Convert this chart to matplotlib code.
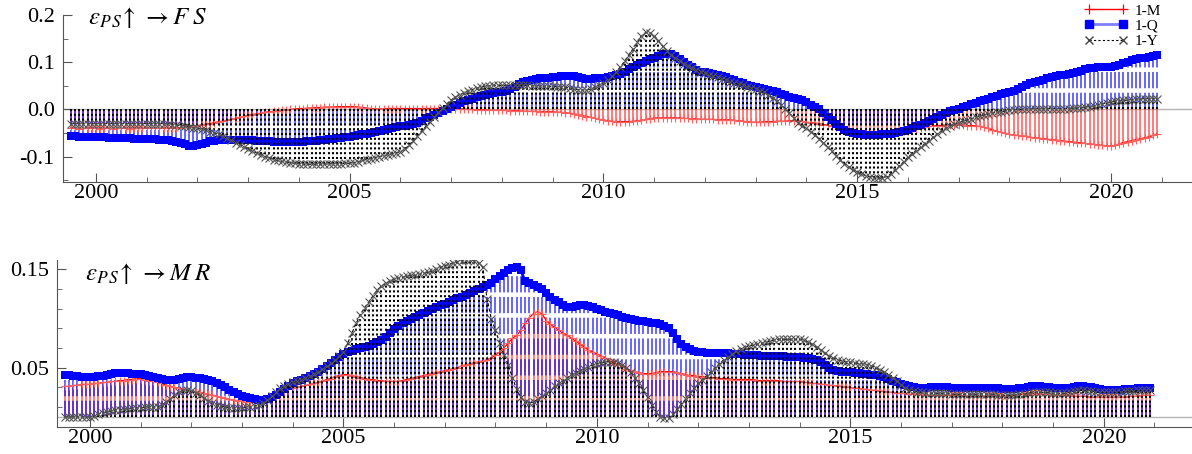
import numpy as np
import matplotlib
matplotlib.use('Agg')
import matplotlib.pyplot as plt
from matplotlib.lines import Line2D

plt.rcParams['font.family'] = ['Liberation Serif', 'DejaVu Serif']
plt.rcParams['mathtext.fontset'] = 'stix'

# monthly responses, first point = Jul 1999, last = Dec 2020
START = 1999.5

# ---- eps_PS -> FS ----
fs_m = [
    -0.040, -0.040, -0.041, -0.040, -0.040, -0.040,
    -0.040, -0.041, -0.040, -0.040, -0.041, -0.040, -0.040, -0.040, -0.041, -0.040, -0.040, -0.040,  # 2000
    -0.040, -0.040, -0.040, -0.040, -0.040, -0.040, -0.039, -0.039, -0.039, -0.038, -0.037, -0.036,  # 2001
    -0.034, -0.033, -0.031, -0.030, -0.028, -0.026, -0.025, -0.023, -0.021, -0.019, -0.017, -0.014,  # 2002
    -0.012, -0.011, -0.009, -0.008, -0.006, -0.005, -0.004, -0.003, -0.002, -0.001, 0.000, 0.001,    # 2003
    0.002, 0.002, 0.003, 0.003, 0.004, 0.004, 0.005, 0.005, 0.005, 0.006, 0.006, 0.006,              # 2004
    0.006, 0.006, 0.005, 0.004, 0.003, 0.002, 0.001, 0.001, 0.001, 0.002, 0.002, 0.002,              # 2005
    0.002, 0.002, 0.002, 0.002, 0.002, 0.002, 0.002, 0.002, 0.002, 0.002, 0.002, 0.002,              # 2006
    0.002, 0.002, 0.001, 0.001, 0.000, 0.000, -0.001, -0.001, -0.001, -0.002, -0.002, -0.002,        # 2007
    -0.002, -0.002, -0.003, -0.003, -0.003, -0.004, -0.004, -0.004, -0.004, -0.005, -0.005, -0.005,  # 2008
    -0.005, -0.006, -0.006, -0.007, -0.008, -0.009, -0.011, -0.013, -0.015, -0.017, -0.019, -0.021,  # 2009
    -0.022, -0.024, -0.025, -0.026, -0.026, -0.026, -0.026, -0.025, -0.024, -0.023, -0.021, -0.020,  # 2010
    -0.018, -0.018, -0.018, -0.018, -0.018, -0.018, -0.018, -0.019, -0.019, -0.020, -0.020, -0.021,  # 2011
    -0.021, -0.021, -0.021, -0.022, -0.022, -0.022, -0.022, -0.023, -0.024, -0.025, -0.026, -0.027,  # 2012
    -0.027, -0.027, -0.026, -0.026, -0.026, -0.025, -0.025, -0.025, -0.024, -0.024, -0.024, -0.025,  # 2013
    -0.027, -0.028, -0.029, -0.030, -0.032, -0.033, -0.035, -0.037, -0.039, -0.041, -0.043, -0.045,  # 2014
    -0.046, -0.047, -0.047, -0.048, -0.048, -0.049, -0.049, -0.049, -0.048, -0.047, -0.046, -0.046,  # 2015
    -0.045, -0.043, -0.041, -0.040, -0.038, -0.036, -0.035, -0.034, -0.034, -0.033, -0.033, -0.033,  # 2016
    -0.033, -0.033, -0.034, -0.034, -0.035, -0.036, -0.038, -0.040, -0.043, -0.046, -0.048, -0.050,  # 2017
    -0.053, -0.054, -0.055, -0.056, -0.057, -0.059, -0.060, -0.061, -0.062, -0.063, -0.064, -0.065,  # 2018
    -0.066, -0.067, -0.068, -0.069, -0.070, -0.071, -0.072, -0.073, -0.074, -0.075, -0.076, -0.077,  # 2019
    -0.078, -0.076, -0.073, -0.070, -0.068, -0.066, -0.064, -0.062, -0.060, -0.058, -0.055, -0.052,  # 2020
]
fs_q = [
    -0.057, -0.057, -0.058, -0.058, -0.058, -0.059,
    -0.059, -0.059, -0.059, -0.060, -0.060, -0.060, -0.061, -0.061, -0.061, -0.062, -0.062, -0.062,  # 2000
    -0.062, -0.063, -0.063, -0.064, -0.064, -0.065, -0.066, -0.068, -0.071, -0.074, -0.077, -0.078,  # 2001
    -0.076, -0.073, -0.070, -0.067, -0.066, -0.065, -0.065, -0.065, -0.065, -0.065, -0.065, -0.065,  # 2002
    -0.065, -0.065, -0.066, -0.066, -0.067, -0.067, -0.068, -0.068, -0.068, -0.068, -0.068, -0.068,  # 2003
    -0.068, -0.068, -0.067, -0.067, -0.066, -0.065, -0.064, -0.063, -0.062, -0.061, -0.060, -0.059,  # 2004
    -0.058, -0.057, -0.055, -0.053, -0.051, -0.049, -0.047, -0.045, -0.043, -0.041, -0.039, -0.037,  # 2005
    -0.035, -0.034, -0.033, -0.031, -0.028, -0.024, -0.019, -0.015, -0.011, -0.007, -0.003, 0.001,   # 2006
    0.006, 0.010, 0.013, 0.017, 0.020, 0.023, 0.026, 0.028, 0.030, 0.032, 0.034, 0.036,              # 2007
    0.037, 0.040, 0.044, 0.048, 0.053, 0.058, 0.061, 0.063, 0.065, 0.066, 0.067, 0.067,              # 2008
    0.068, 0.069, 0.070, 0.071, 0.071, 0.070, 0.068, 0.066, 0.065, 0.065, 0.066, 0.066,              # 2009
    0.066, 0.068, 0.070, 0.073, 0.076, 0.080, 0.086, 0.090, 0.094, 0.098, 0.102, 0.106,              # 2010
    0.110, 0.113, 0.117, 0.118, 0.117, 0.114, 0.106, 0.100, 0.095, 0.089, 0.084, 0.080,              # 2011
    0.079, 0.077, 0.076, 0.074, 0.071, 0.068, 0.065, 0.062, 0.058, 0.055, 0.052, 0.050,              # 2012
    0.048, 0.046, 0.044, 0.042, 0.039, 0.036, 0.033, 0.030, 0.027, 0.024, 0.022, 0.019,              # 2013
    0.015, 0.010, 0.006, 0.000, -0.008, -0.016, -0.022, -0.030, -0.037, -0.043, -0.047, -0.050,      # 2014
    -0.052, -0.053, -0.054, -0.054, -0.054, -0.054, -0.053, -0.053, -0.052, -0.050, -0.048, -0.046,  # 2015
    -0.043, -0.040, -0.036, -0.032, -0.028, -0.024, -0.020, -0.016, -0.012, -0.008, -0.004, -0.001,  # 2016
    0.002, 0.005, 0.008, 0.011, 0.014, 0.017, 0.020, 0.023, 0.026, 0.029, 0.032, 0.035,              # 2017
    0.037, 0.040, 0.043, 0.047, 0.051, 0.055, 0.058, 0.061, 0.063, 0.066, 0.068, 0.070,              # 2018
    0.072, 0.074, 0.076, 0.078, 0.080, 0.082, 0.085, 0.087, 0.088, 0.089, 0.090, 0.090,              # 2019
    0.090, 0.092, 0.095, 0.098, 0.101, 0.104, 0.106, 0.108, 0.110, 0.112, 0.114, 0.116,              # 2020
]
fs_y = [
    -0.030, -0.030, -0.030, -0.030, -0.030, -0.030,
    -0.030, -0.030, -0.030, -0.030, -0.030, -0.030, -0.030, -0.030, -0.030, -0.030, -0.030, -0.030,  # 2000
    -0.030, -0.030, -0.030, -0.030, -0.030, -0.031, -0.032, -0.033, -0.034, -0.035, -0.037, -0.039,  # 2001
    -0.040, -0.042, -0.044, -0.047, -0.050, -0.053, -0.057, -0.061, -0.065, -0.070, -0.075, -0.080,  # 2002
    -0.084, -0.088, -0.092, -0.096, -0.100, -0.103, -0.106, -0.108, -0.110, -0.112, -0.113, -0.114,  # 2003
    -0.115, -0.116, -0.116, -0.116, -0.116, -0.116, -0.116, -0.115, -0.115, -0.115, -0.115, -0.114,  # 2004
    -0.114, -0.113, -0.111, -0.108, -0.106, -0.104, -0.102, -0.100, -0.098, -0.096, -0.094, -0.092,  # 2005
    -0.090, -0.084, -0.076, -0.066, -0.056, -0.046, -0.036, -0.026, -0.016, -0.006, 0.004, 0.012,    # 2006
    0.020, 0.026, 0.031, 0.035, 0.039, 0.042, 0.045, 0.047, 0.049, 0.050, 0.051, 0.051,              # 2007
    0.051, 0.051, 0.051, 0.051, 0.051, 0.051, 0.051, 0.050, 0.050, 0.050, 0.049, 0.049,              # 2008
    0.049, 0.048, 0.048, 0.047, 0.045, 0.043, 0.042, 0.041, 0.041, 0.043, 0.047, 0.052,              # 2009
    0.055, 0.062, 0.070, 0.080, 0.090, 0.102, 0.115, 0.128, 0.142, 0.155, 0.163, 0.162,              # 2010
    0.156, 0.146, 0.134, 0.124, 0.116, 0.108, 0.102, 0.096, 0.091, 0.087, 0.083, 0.080,              # 2011
    0.077, 0.074, 0.071, 0.068, 0.065, 0.062, 0.059, 0.056, 0.053, 0.051, 0.048, 0.045,              # 2012
    0.043, 0.040, 0.036, 0.031, 0.025, 0.018, 0.010, 0.002, -0.008, -0.018, -0.028, -0.035,          # 2013
    -0.040, -0.047, -0.054, -0.062, -0.071, -0.080, -0.089, -0.098, -0.107, -0.115, -0.122, -0.128,  # 2014
    -0.133, -0.137, -0.140, -0.143, -0.145, -0.146, -0.145, -0.142, -0.136, -0.128, -0.120, -0.111,  # 2015
    -0.101, -0.094, -0.087, -0.080, -0.073, -0.066, -0.059, -0.052, -0.046, -0.040, -0.035, -0.031,  # 2016
    -0.028, -0.025, -0.023, -0.020, -0.017, -0.014, -0.012, -0.010, -0.008, -0.006, -0.005, -0.004,  # 2017
    -0.002, -0.001, 0.000, 0.000, 0.001, 0.001, 0.002, 0.002, 0.002, 0.002, 0.002, 0.002,            # 2018
    0.002, 0.002, 0.002, 0.003, 0.003, 0.004, 0.005, 0.006, 0.008, 0.010, 0.012, 0.014,              # 2019
    0.016, 0.017, 0.018, 0.019, 0.020, 0.021, 0.022, 0.022, 0.023, 0.023, 0.023, 0.023,              # 2020
]

# ---- eps_PS -> MR ----
mr_m = [
    0.031, 0.031, 0.032, 0.032, 0.033, 0.033,
    0.033, 0.034, 0.034, 0.035, 0.035, 0.036, 0.036, 0.037, 0.037, 0.038, 0.038, 0.039,  # 2000
    0.039, 0.038, 0.037, 0.036, 0.035, 0.034, 0.032, 0.031, 0.030, 0.029, 0.028, 0.027,  # 2001
    0.026, 0.025, 0.025, 0.024, 0.023, 0.022, 0.021, 0.020, 0.019, 0.018, 0.017, 0.016,  # 2002
    0.016, 0.015, 0.015, 0.015, 0.015, 0.016, 0.018, 0.020, 0.022, 0.024, 0.026, 0.028,  # 2003
    0.029, 0.030, 0.031, 0.032, 0.033, 0.034, 0.035, 0.036, 0.038, 0.039, 0.041, 0.042,  # 2004
    0.043, 0.043, 0.042, 0.041, 0.040, 0.039, 0.038, 0.038, 0.037, 0.037, 0.036, 0.036,  # 2005
    0.036, 0.036, 0.037, 0.038, 0.039, 0.040, 0.041, 0.042, 0.043, 0.044, 0.045, 0.046,  # 2006
    0.047, 0.048, 0.049, 0.050, 0.052, 0.053, 0.054, 0.055, 0.056, 0.057, 0.058, 0.060,  # 2007
    0.063, 0.066, 0.070, 0.075, 0.080, 0.083, 0.088, 0.095, 0.101, 0.105, 0.107, 0.105,  # 2008
    0.098, 0.094, 0.091, 0.088, 0.085, 0.083, 0.080, 0.077, 0.074, 0.071, 0.068, 0.066,  # 2009
    0.064, 0.062, 0.060, 0.057, 0.055, 0.053, 0.051, 0.049, 0.047, 0.046, 0.045, 0.044,  # 2010
    0.044, 0.044, 0.045, 0.046, 0.046, 0.046, 0.046, 0.045, 0.044, 0.043, 0.042, 0.042,  # 2011
    0.041, 0.041, 0.040, 0.040, 0.040, 0.039, 0.039, 0.039, 0.038, 0.038, 0.038, 0.038,  # 2012
    0.038, 0.038, 0.037, 0.037, 0.037, 0.037, 0.037, 0.037, 0.036, 0.036, 0.036, 0.036,  # 2013
    0.036, 0.035, 0.035, 0.034, 0.034, 0.033, 0.033, 0.032, 0.032, 0.031, 0.031, 0.030,  # 2014
    0.030, 0.029, 0.029, 0.028, 0.028, 0.027, 0.027, 0.026, 0.026, 0.025, 0.025, 0.024,  # 2015
    0.024, 0.024, 0.023, 0.023, 0.023, 0.023, 0.022, 0.022, 0.022, 0.022, 0.022, 0.022,  # 2016
    0.022, 0.022, 0.022, 0.021, 0.021, 0.021, 0.021, 0.021, 0.021, 0.021, 0.021, 0.021,  # 2017
    0.021, 0.021, 0.022, 0.022, 0.023, 0.023, 0.024, 0.024, 0.024, 0.023, 0.023, 0.023,  # 2018
    0.022, 0.022, 0.022, 0.022, 0.021, 0.021, 0.021, 0.021, 0.021, 0.020, 0.020, 0.020,  # 2019
    0.020, 0.020, 0.020, 0.020, 0.020, 0.020, 0.021, 0.021, 0.021, 0.022, 0.022, 0.022,  # 2020
]
mr_q = [
    0.043, 0.043, 0.042, 0.042, 0.041, 0.041,
    0.041, 0.041, 0.042, 0.042, 0.043, 0.044, 0.045, 0.045, 0.045, 0.045, 0.044, 0.044,  # 2000
    0.044, 0.043, 0.042, 0.041, 0.040, 0.039, 0.038, 0.038, 0.038, 0.039, 0.040, 0.041,  # 2001
    0.041, 0.040, 0.040, 0.039, 0.038, 0.036, 0.034, 0.032, 0.030, 0.027, 0.025, 0.023,  # 2002
    0.021, 0.020, 0.019, 0.018, 0.017, 0.017, 0.018, 0.020, 0.022, 0.025, 0.028, 0.031,  # 2003
    0.034, 0.036, 0.038, 0.040, 0.042, 0.044, 0.046, 0.049, 0.052, 0.055, 0.058, 0.061,  # 2004
    0.064, 0.066, 0.067, 0.069, 0.070, 0.071, 0.072, 0.074, 0.076, 0.078, 0.081, 0.085,  # 2005
    0.089, 0.092, 0.095, 0.098, 0.100, 0.102, 0.104, 0.106, 0.108, 0.110, 0.112, 0.114,  # 2006
    0.115, 0.117, 0.119, 0.121, 0.122, 0.124, 0.126, 0.128, 0.130, 0.132, 0.134, 0.136,  # 2007
    0.140, 0.143, 0.146, 0.149, 0.151, 0.152, 0.149, 0.138, 0.136, 0.134, 0.132, 0.130,  # 2008
    0.126, 0.122, 0.119, 0.117, 0.114, 0.112, 0.112, 0.113, 0.114, 0.114, 0.113, 0.112,  # 2009
    0.110, 0.109, 0.107, 0.106, 0.105, 0.104, 0.102, 0.101, 0.100, 0.099, 0.098, 0.098,  # 2010
    0.097, 0.096, 0.095, 0.094, 0.092, 0.090, 0.085, 0.079, 0.074, 0.071, 0.069, 0.067,  # 2011
    0.066, 0.066, 0.065, 0.065, 0.065, 0.065, 0.065, 0.065, 0.064, 0.064, 0.064, 0.063,  # 2012
    0.063, 0.063, 0.063, 0.062, 0.062, 0.062, 0.062, 0.062, 0.062, 0.061, 0.061, 0.061,  # 2013
    0.061, 0.060, 0.060, 0.059, 0.058, 0.056, 0.053, 0.050, 0.048, 0.047, 0.046, 0.046,  # 2014
    0.046, 0.045, 0.045, 0.044, 0.044, 0.043, 0.043, 0.042, 0.041, 0.039, 0.037, 0.035,  # 2015
    0.033, 0.032, 0.031, 0.030, 0.029, 0.029, 0.029, 0.030, 0.030, 0.030, 0.030, 0.030,  # 2016
    0.029, 0.029, 0.029, 0.029, 0.029, 0.029, 0.029, 0.029, 0.029, 0.029, 0.029, 0.029,  # 2017
    0.028, 0.028, 0.028, 0.028, 0.029, 0.029, 0.030, 0.031, 0.031, 0.031, 0.030, 0.030,  # 2018
    0.029, 0.029, 0.029, 0.029, 0.029, 0.030, 0.031, 0.031, 0.030, 0.030, 0.029, 0.028,  # 2019
    0.027, 0.027, 0.027, 0.027, 0.027, 0.028, 0.028, 0.028, 0.029, 0.029, 0.029, 0.029,  # 2020
]
mr_y = [
    0.000, 0.000, 0.000, 0.000, 0.000, 0.000,
    0.000, 0.001, 0.003, 0.004, 0.005, 0.006, 0.007, 0.007, 0.008, 0.008, 0.009, 0.009,  # 2000
    0.009, 0.010, 0.010, 0.010, 0.010, 0.012, 0.015, 0.018, 0.022, 0.025, 0.027, 0.027,  # 2001
    0.026, 0.024, 0.022, 0.019, 0.016, 0.014, 0.012, 0.011, 0.010, 0.009, 0.009, 0.009,  # 2002
    0.009, 0.010, 0.010, 0.011, 0.012, 0.014, 0.017, 0.021, 0.025, 0.029, 0.031, 0.033,  # 2003
    0.035, 0.037, 0.038, 0.040, 0.042, 0.044, 0.046, 0.049, 0.052, 0.055, 0.058, 0.062,  # 2004
    0.066, 0.075, 0.085, 0.095, 0.104, 0.111, 0.117, 0.123, 0.129, 0.133, 0.136, 0.138,  # 2005
    0.140, 0.141, 0.142, 0.143, 0.144, 0.144, 0.145, 0.146, 0.147, 0.148, 0.150, 0.152,  # 2006
    0.154, 0.155, 0.157, 0.158, 0.159, 0.160, 0.160, 0.159, 0.157, 0.152, 0.120, 0.100,  # 2007
    0.088, 0.075, 0.063, 0.053, 0.040, 0.028, 0.020, 0.015, 0.014, 0.015, 0.018, 0.021,  # 2008
    0.024, 0.027, 0.031, 0.034, 0.037, 0.040, 0.043, 0.045, 0.047, 0.049, 0.051, 0.053,  # 2009
    0.054, 0.055, 0.056, 0.056, 0.056, 0.055, 0.053, 0.050, 0.046, 0.040, 0.034, 0.027,  # 2010
    0.020, 0.012, 0.005, 0.000, -0.001, -0.001, 0.003, 0.008, 0.013, 0.018, 0.024, 0.029,  # 2011
    0.034, 0.038, 0.042, 0.046, 0.050, 0.054, 0.058, 0.061, 0.064, 0.067, 0.069, 0.071,  # 2012
    0.072, 0.073, 0.074, 0.075, 0.076, 0.077, 0.078, 0.079, 0.079, 0.079, 0.079, 0.079,  # 2013
    0.079, 0.078, 0.076, 0.074, 0.071, 0.068, 0.065, 0.062, 0.060, 0.058, 0.057, 0.056,  # 2014
    0.056, 0.055, 0.054, 0.054, 0.053, 0.052, 0.050, 0.048, 0.046, 0.043, 0.040, 0.036,  # 2015
    0.032, 0.029, 0.027, 0.026, 0.025, 0.025, 0.024, 0.024, 0.024, 0.024, 0.024, 0.024,  # 2016
    0.023, 0.023, 0.023, 0.023, 0.023, 0.023, 0.023, 0.023, 0.023, 0.023, 0.023, 0.022,  # 2017
    0.022, 0.022, 0.022, 0.022, 0.023, 0.023, 0.024, 0.025, 0.025, 0.025, 0.025, 0.025,  # 2018
    0.024, 0.024, 0.024, 0.024, 0.025, 0.026, 0.027, 0.027, 0.026, 0.026, 0.025, 0.025,  # 2019
    0.025, 0.025, 0.025, 0.025, 0.025, 0.026, 0.026, 0.026, 0.027, 0.027, 0.027, 0.027,  # 2020
]

labels = ['1-M', '1-Q', '1-Y']
year_major = [2000, 2005, 2010, 2015, 2020]
year_minor = [y for y in range(2000, 2022) if y % 5]

AX_COL = '#555555'


def draw_panel(ax, m, q, y):
    """Drop lines to the axis plus the three marker lines."""
    t = START + np.arange(len(m)) / 12.0
    ax.axhline(0, color='#b4b4b4', lw=1.0, zorder=0)
    ax.vlines(t, 0, m, colors='red', alpha=0.6, lw=1.2, zorder=1)
    ax.vlines(t, 0, q, colors='blue', alpha=0.65, lw=1.3,
              linestyles=[(0, (9, 2.5))], zorder=2)
    ax.plot(t, m, color='red', lw=0.9, marker='+', ms=6, mew=0.8,
            mec='#ff6060', zorder=3)
    ax.plot(t, q, color='blue', lw=2.0, marker='s', ms=6, mew=0, zorder=4)
    ax.vlines(t, 0, y, colors='black', lw=1.5,
              linestyles=[(0, (1, 1.3))], zorder=5)
    ax.plot(t, y, color='black', lw=0.8, ls=(0, (3, 2)), marker='x', ms=6,
            mec='#555555', mew=0.8, zorder=6)


def style_axes(ax):
    for s in ('top', 'right'):
        ax.spines[s].set_visible(False)
    for s in ('left', 'bottom'):
        ax.spines[s].set_color(AX_COL)
    ax.set_xticks(year_major, [str(y) for y in year_major])
    ax.set_xticks(year_minor, minor=True)
    ax.tick_params(which='both', direction='in', color=AX_COL, labelsize=16)
    ax.tick_params(which='major', length=6.5)
    ax.tick_params(which='minor', length=3.6)
    ax.tick_params(axis='x', pad=2)
    ax.tick_params(axis='y', pad=6)


fig = plt.figure(figsize=(11.92, 4.54), dpi=100)

# top panel: FS
ax1 = fig.add_axes([63 / 1192, 1 - 181.7 / 454, 1129 / 1192, 166.7 / 454])
draw_panel(ax1, fs_m, fs_q, fs_y)
style_axes(ax1)
ax1.set_xlim(1999.35, 2021.6)
ax1.set_ylim(-0.153, 0.2)
ax1.set_yticks([-0.1, 0.0, 0.1, 0.2], ['-0.1', '0.0', '0.1', '0.2'])
ax1.set_yticks([-0.15, -0.05, 0.05, 0.15], minor=True)
fig.text(88 / 1192, 1 - 18 / 454, r'$\varepsilon_{P\,S}\!\uparrow\,\rightarrow F\;S$',
         fontsize=18, va='center', ha='left')

# bottom panel: MR
ax2 = fig.add_axes([57 / 1192, 1 - 426.5 / 454, 1135 / 1192, 166.5 / 454])
draw_panel(ax2, mr_m, mr_q, mr_y)
style_axes(ax2)
ax2.set_xlim(1999.35, 2021.74)
ax2.set_ylim(-0.0098, 0.1596)
ax2.set_yticks([0.05, 0.15], ['0.05', '0.15'])
ax2.set_yticks([0.01, 0.03, 0.07, 0.09, 0.11, 0.13], minor=True)
fig.text(85 / 1192, 1 - 274 / 454, r'$\varepsilon_{P\,S}\!\uparrow\,\rightarrow M\;R$',
         fontsize=18, va='center', ha='left')

handles = [
    Line2D([], [], color='red', lw=1.0, marker='+', ms=7, mew=0.9),
    Line2D([], [], color='#8080ff', lw=2.0, marker='s', ms=6, mfc='blue', mec='blue'),
    Line2D([], [], color='black', lw=0.8, ls=(0, (2, 2)), marker='x', ms=6, mec='#444444'),
]
fig.legend(handles, labels, loc='upper right', bbox_to_anchor=(1165 / 1192, 1.0),
           frameon=False, fontsize=11, numpoints=2, handlelength=2.8,
           labelspacing=0.1, handletextpad=0.5, borderaxespad=0.1, borderpad=0.15)

fig.savefig('out.png', dpi=100)
